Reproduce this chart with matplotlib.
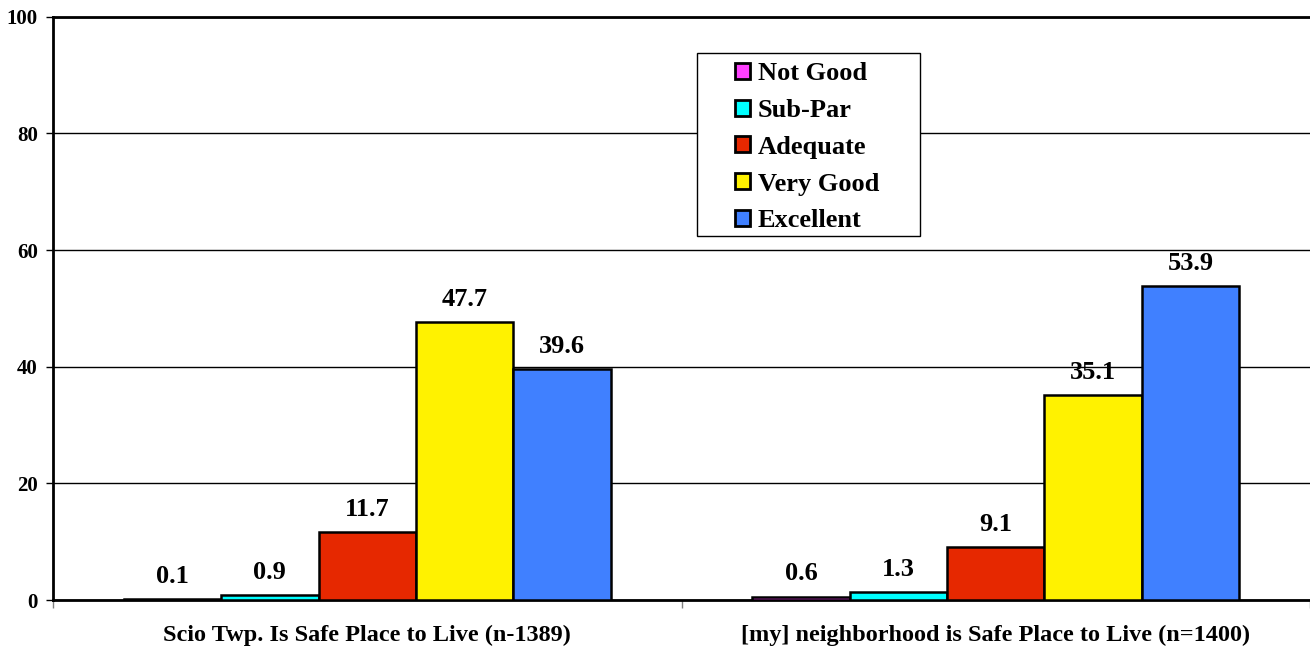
import numpy as np
import matplotlib.pyplot as plt
from matplotlib.patches import Rectangle

plt.rcParams['font.family'] = ['Liberation Serif', 'DejaVu Serif']
plt.rcParams['font.weight'] = 'bold'

categories = ["Scio Twp. Is Safe Place to Live (n-1389)",
              "[my] neighborhood is Safe Place to Live (n=1400)"]
ratings = ["Not Good", "Sub-Par", "Adequate", "Very Good", "Excellent"]
values = {
    "Not Good": [0.1, 0.6],
    "Sub-Par": [0.9, 1.3],
    "Adequate": [11.7, 9.1],
    "Very Good": [47.7, 35.1],
    "Excellent": [39.6, 53.9],
}
colors = ["#FF40FF", "#00FFFF", "#E62800", "#FFF200", "#4080FF"]

fig = plt.figure(figsize=(13.1, 6.48), dpi=100)
ax = fig.add_axes([0.0405, 0.074, 0.9595, 0.9])

x = np.arange(len(categories))
width = 0.155
for i, (name, col) in enumerate(zip(ratings, colors)):
    pos = x + (i - 2) * width
    bars = ax.bar(pos, values[name], width, color=col, edgecolor="black",
                  linewidth=1.8, label=name, zorder=3)
    for b, v in zip(bars, values[name]):
        ax.annotate(f"{v:.1f}", (b.get_x() + b.get_width() / 2, v),
                    xytext=(0, 8), textcoords="offset points",
                    ha="center", va="bottom", fontsize=19, fontweight="bold")

ax.set_ylim(0, 100)
ax.set_xlim(-0.5, 1.5)
ax.set_yticks(np.arange(0, 101, 20))
ax.yaxis.grid(True, color="black", linewidth=1)
ax.set_axisbelow(True)

ax.set_xticks(x)
ax.set_xticklabels(categories, fontsize=17.5, fontweight="bold")
ax.set_xticks([-0.5, 0.5, 1.5], minor=True)
ax.tick_params(axis="x", which="major", length=0, pad=18)
ax.tick_params(axis="x", which="minor", length=6, width=1, color="gray")
ax.tick_params(axis="y", length=5, width=1, labelsize=15, pad=6)

for side in ["left", "bottom", "top"]:
    ax.spines[side].set_linewidth(2)
ax.spines["right"].set_visible(False)

# legend frame drawn separately so it can be wider than the entries
ax.add_patch(Rectangle((0.512, 0.624), 0.178, 0.314, transform=ax.transAxes,
                       facecolor="white", edgecolor="black", linewidth=1,
                       zorder=4))
leg = ax.legend(loc="upper left", bbox_to_anchor=(0.5426, 0.922),
                prop={"size": 19, "weight": "bold"}, frameon=False,
                handlelength=0.55, handleheight=0.55, handletextpad=0.3,
                labelspacing=0.52, borderpad=0, borderaxespad=0)
leg.set_zorder(5)
for h in leg.legend_handles:
    h.set_linewidth(2)

fig.savefig("out.png", dpi=100)
